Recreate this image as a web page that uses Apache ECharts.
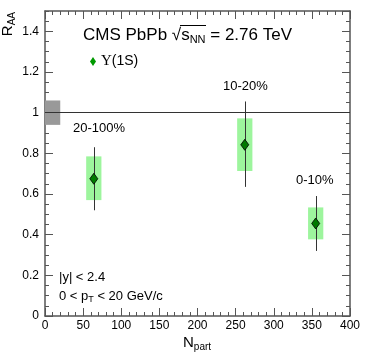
<!DOCTYPE html>
<html>
<head>
<meta charset="utf-8">
<script src="https://cdn.jsdelivr.net/npm/echarts@6/dist/echarts.min.js"></script>
<style>
html,body{margin:0;padding:0;background:#fff;}
#c{width:374px;height:359px;}
</style>
</head>
<body>
<div id="c"></div>
<script>
// ---- data ----
const centrality = ['20-100%', '10-20%', '0-10%'];
const nPart      = [64, 262, 355];
const raa        = [0.675, 0.842, 0.455];
const statLow    = [0.52, 0.635, 0.32];
const statHigh   = [0.83, 1.055, 0.59];
const systLow    = [0.57, 0.713, 0.377];
const systHigh   = [0.785, 0.972, 0.534];
const globalUnc  = [0.94, 1.06];     // global uncertainty box around 1
const xTicks = {min: 0, max: 400, major: 50, minor: 10};
const yTicks = {min: 0, max: 1.5, major: 0.2, minor: 0.05};
const seriesName = 'Υ(1S)';

// ---- styles ----
const BOX_HALF = 10;      // half width of syst boxes in Npart units
const GLOBAL_W = 20;      // width of global box in Npart units
const FONT = 'Liberation Sans, Arial, Helvetica, sans-serif';
const AXIS_COLOR = '#555';

const chart = echarts.init(document.getElementById('c'), null, {renderer: 'canvas'});

function xAx(pos, interval, len, labels, line) {
  return {
    type: 'value', position: pos, min: xTicks.min, max: xTicks.max, interval: interval,
    axisLine: {show: line, onZero: false, lineStyle: {color: AXIS_COLOR, width: 1.5}},
    axisTick: {show: true, inside: true, length: len, lineStyle: {color: AXIS_COLOR, width: 1}},
    axisLabel: {show: labels, color: '#000', fontSize: 12, fontFamily: FONT, margin: 4},
    splitLine: {show: false}
  };
}
function yAx(pos, interval, len, labels, line) {
  return {
    type: 'value', position: pos, min: yTicks.min, max: yTicks.max, interval: interval,
    axisLine: {show: line, onZero: false, lineStyle: {color: AXIS_COLOR, width: 1.5}},
    axisTick: {show: true, inside: true, length: len, lineStyle: {color: AXIS_COLOR, width: 1}},
    axisLabel: {show: labels, color: '#000', fontSize: 12, fontFamily: FONT, margin: 6, showMaxLabel: false},
    splitLine: {show: false}
  };
}

const option = {
  animation: false,
  backgroundColor: '#fff',
  grid: {left: 45, top: 11, right: 24, bottom: 43},
  xAxis: [
    xAx('bottom', xTicks.major, 8, true, true),
    xAx('bottom', xTicks.minor, 4, false, false),
    xAx('top', xTicks.major, 8, false, true),
    xAx('top', xTicks.minor, 4, false, false)
  ],
  yAxis: [
    yAx('left', yTicks.major, 8, true, true),
    yAx('left', yTicks.minor, 4, false, false),
    yAx('right', yTicks.major, 8, false, true),
    yAx('right', yTicks.minor, 4, false, false)
  ],
  legend: {
    left: 90, top: 54, padding: 0, selectedMode: false,
    itemWidth: 6, itemHeight: 9,
    data: [{name: seriesName, icon: 'diamond', itemStyle: {color: '#009900', borderWidth: 0}}],
    formatter: function (n) { return '{u|Υ}{t|(1S)}'; },
    textStyle: {
      color: '#000', fontSize: 14, fontFamily: FONT,
      rich: {
        u: {fontFamily: 'Liberation Serif, serif', fontSize: 15, color: '#000'},
        t: {fontFamily: FONT, fontSize: 14, color: '#000'}
      }
    }
  },
  series: [
    {
      type: 'custom', name: 'global', z: 3,
      data: [[xTicks.min, globalUnc[0], globalUnc[1]]],
      renderItem: function (params, api) {
        const x0 = api.value(0), lo = api.value(1), hi = api.value(2);
        const p1 = api.coord([x0, hi]);
        const p2 = api.coord([x0 + GLOBAL_W, lo]);
        return {type: 'rect', shape: {x: p1[0], y: p1[1], width: p2[0] - p1[0], height: p2[1] - p1[1]},
                style: {fill: '#999999'}};
      },
      markLine: {
        silent: true, symbol: 'none', label: {show: false},
        lineStyle: {color: '#333', width: 1, type: 'solid'},
        data: [{yAxis: 1}]
      }
    },
    {
      type: 'custom', name: 'syst', z: 3,
      data: nPart.map((x, i) => [x, systLow[i], systHigh[i]]),
      renderItem: function (params, api) {
        const x = api.value(0), lo = api.value(1), hi = api.value(2);
        const p1 = api.coord([x - BOX_HALF, hi]);
        const p2 = api.coord([x + BOX_HALF, lo]);
        return {type: 'rect', shape: {x: p1[0], y: p1[1], width: p2[0] - p1[0], height: p2[1] - p1[1]},
                style: {fill: '#9df59d'}};
      }
    },
    {
      type: 'custom', name: 'stat', z: 4,
      data: nPart.map((x, i) => [x, statLow[i], statHigh[i]]),
      renderItem: function (params, api) {
        const x = api.value(0);
        const p1 = api.coord([x, api.value(1)]);
        const p2 = api.coord([x, api.value(2)]);
        return {type: 'line', shape: {x1: Math.round(p1[0]) + 0.5, y1: p1[1], x2: Math.round(p2[0]) + 0.5, y2: p2[1]},
                style: {stroke: '#333', lineWidth: 1}};
      }
    },
    {
      type: 'scatter', name: seriesName, z: 5,
      symbol: 'diamond', symbolSize: [8, 11],
      itemStyle: {color: '#007a00', borderColor: '#000', borderWidth: 0.8, opacity: 1},
      data: nPart.map((x, i) => [x, raa[i]])
    }
  ],
  graphic: [
    {
      type: 'text', x: 83, y: 35, z: 10,
      style: {
        text: '{m|CMS PbPb √}{m|s}{s|NN}{m| = 2.76 TeV}',
        align: 'left', verticalAlign: 'middle',
        rich: {
          m: {fontSize: 17, fontFamily: FONT, fill: '#000', lineHeight: 20},
          s: {fontSize: 11, fontFamily: FONT, fill: '#000', lineHeight: 11, verticalAlign: 'bottom'}
        }
      }
    },
    {
      type: 'line', z: 10,
      shape: {x1: 180, y1: 25.5, x2: 206, y2: 25.5},
      style: {stroke: '#000', lineWidth: 1}
    },
    {
      type: 'text', x: 73, y: 128, z: 10,
      style: {text: centrality[0], fontSize: 13, fontFamily: FONT, fill: '#000', align: 'left', verticalAlign: 'middle'}
    },
    {
      type: 'text', x: 223, y: 86, z: 10,
      style: {text: centrality[1], fontSize: 13, fontFamily: FONT, fill: '#000', align: 'left', verticalAlign: 'middle'}
    },
    {
      type: 'text', x: 296, y: 180, z: 10,
      style: {text: centrality[2], fontSize: 13, fontFamily: FONT, fill: '#000', align: 'left', verticalAlign: 'middle'}
    },
    {
      type: 'text', x: 59, y: 277, z: 10,
      style: {text: '|y| < 2.4', fontSize: 13, fontFamily: FONT, fill: '#000', align: 'left', verticalAlign: 'middle'}
    },
    {
      type: 'text', x: 59, y: 296, z: 10,
      style: {
        text: '{m|0 < p}{s|T}{m| < 20 GeV/c}',
        align: 'left', verticalAlign: 'middle',
        rich: {
          m: {fontSize: 13, fontFamily: FONT, fill: '#000', lineHeight: 16},
          s: {fontSize: 9, fontFamily: FONT, fill: '#000', lineHeight: 9, verticalAlign: 'bottom'}
        }
      }
    },
    {
      type: 'text', x: 8, y: 12, z: 10, rotation: Math.PI / 2,
      style: {
        text: '{m|R}{s|AA}',
        align: 'right', verticalAlign: 'middle',
        rich: {
          m: {fontSize: 15, fontFamily: FONT, fill: '#000', lineHeight: 18},
          s: {fontSize: 10, fontFamily: FONT, fill: '#000', lineHeight: 10, verticalAlign: 'bottom'}
        }
      }
    },
    {
      type: 'text', x: 183, y: 343, z: 10,
      style: {
        text: '{m|N}{s|part}',
        align: 'left', verticalAlign: 'middle',
        rich: {
          m: {fontSize: 15, fontFamily: FONT, fill: '#000', lineHeight: 18},
          s: {fontSize: 10, fontFamily: FONT, fill: '#000', lineHeight: 10, verticalAlign: 'bottom'}
        }
      }
    }
  ]
};
chart.setOption(option);
</script>
</body>
</html>
